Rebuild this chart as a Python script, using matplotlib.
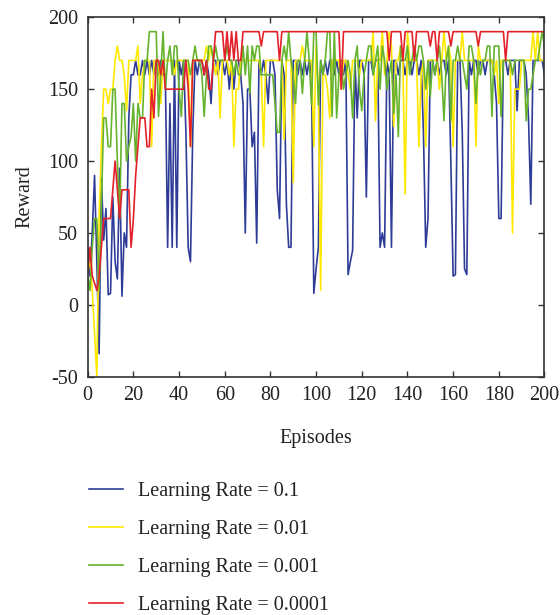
import numpy as np
import matplotlib
matplotlib.use("Agg")
import matplotlib.pyplot as plt

# Reward per episode for each learning rate (episodes 0..200)
episodes = np.arange(0, 201)

reward_lr_0_1 = [
    40, 20, 50, 90, 30, -34, 88, 45, 67, 7,
    8, 75, 30, 18, 95, 6, 50, 40, 130, 160,
    160, 170, 160, 160, 170, 160, 170, 160, 170, 160,
    170, 160, 170, 160, 160, 40, 140, 40, 170, 40,
    170, 160, 170, 120, 40, 30, 120, 170, 160, 170,
    170, 160, 170, 160, 140, 170, 170, 160, 170, 170,
    160, 170, 150, 170, 150, 170, 170, 160, 140, 50,
    150, 150, 110, 120, 43, 170, 160, 170, 160, 140,
    170, 170, 160, 80, 60, 170, 160, 70, 40, 40,
    170, 170, 160, 170, 160, 170, 160, 170, 160, 8,
    25, 40, 170, 160, 170, 160, 170, 170, 160, 170,
    160, 170, 160, 170, 21, 30, 38, 170, 130, 170,
    170, 160, 75, 170, 170, 160, 170, 170, 40, 50,
    40, 170, 160, 40, 170, 170, 160, 170, 170, 160,
    170, 170, 160, 170, 170, 160, 170, 120, 40, 60,
    170, 170, 160, 170, 160, 170, 170, 160, 170, 100,
    20, 21, 170, 170, 120, 25, 21, 170, 160, 170,
    170, 160, 170, 170, 160, 170, 170, 170, 160, 140,
    60, 60, 170, 170, 160, 170, 170, 170, 135, 170,
    170, 170, 160, 130, 70, 170, 170, 170, 170, 170,
    160,
]

reward_lr_0_01 = [
    25, 30, 10, -20, -50, 60, 110, 150, 150, 140,
    150, 150, 170, 180, 170, 170, 160, 135, 170, 170,
    170, 170, 180, 140, 160, 170, 170, 170, 110, 170,
    170, 170, 140, 170, 170, 170, 170, 170, 160, 170,
    170, 170, 170, 170, 170, 110, 170, 170, 170, 170,
    170, 170, 180, 170, 180, 170, 160, 170, 130, 170,
    170, 170, 160, 170, 110, 150, 150, 170, 170, 170,
    170, 170, 170, 170, 170, 170, 160, 110, 170, 170,
    170, 170, 170, 170, 170, 170, 115, 170, 170, 170,
    85, 170, 170, 170, 180, 170, 170, 170, 170, 110,
    180, 150, 10, 160, 160, 150, 130, 170, 170, 170,
    170, 150, 170, 170, 160, 150, 170, 170, 170, 160,
    170, 170, 170, 170, 170, 190, 128, 170, 170, 190,
    160, 170, 190, 180, 124, 170, 170, 180, 170, 77,
    190, 170, 170, 170, 170, 110, 160, 170, 110, 170,
    170, 170, 170, 170, 150, 170, 190, 170, 180, 170,
    110, 170, 170, 170, 190, 170, 170, 170, 170, 170,
    110, 180, 170, 170, 170, 170, 170, 170, 160, 170,
    140, 170, 170, 170, 170, 170, 50, 150, 150, 150,
    170, 170, 170, 170, 170, 190, 170, 190, 170, 170,
    170,
]

reward_lr_0_001 = [
    20, 10, 40, 60, 60, 10, 70, 130, 130, 110,
    110, 150, 150, 100, 60, 140, 140, 100, 110, 117,
    140, 100, 140, 130, 130, 170, 170, 190, 190, 190,
    190, 131, 160, 190, 150, 170, 180, 160, 180, 180,
    150, 131, 170, 170, 170, 160, 170, 180, 170, 170,
    160, 131, 160, 180, 180, 170, 180, 170, 170, 170,
    170, 180, 170, 170, 160, 170, 160, 160, 180, 160,
    180, 147, 180, 170, 180, 180, 160, 160, 160, 160,
    160, 160, 140, 120, 120, 170, 180, 170, 190, 170,
    160, 140, 170, 170, 147, 170, 190, 170, 139, 190,
    190, 139, 170, 160, 170, 190, 190, 131, 190, 130,
    160, 170, 150, 160, 170, 160, 130, 170, 180, 150,
    135, 160, 170, 180, 180, 160, 170, 180, 150, 180,
    170, 150, 160, 170, 133, 160, 117, 180, 170, 170,
    180, 160, 170, 180, 170, 180, 180, 170, 150, 170,
    145, 170, 160, 170, 180, 160, 128, 170, 180, 128,
    170, 170, 180, 170, 170, 160, 150, 180, 180, 170,
    140, 170, 160, 170, 170, 180, 180, 131, 180, 180,
    180, 131, 170, 170, 170, 170, 160, 170, 170, 170,
    170, 170, 128, 150, 150, 160, 170, 170, 180, 190,
    180,
]

reward_lr_0_0001 = [
    22, 40, 20, 15, 10, 20, 40, 60, 60, 60,
    60, 80, 100, 80, 60, 80, 80, 80, 80, 40,
    60, 90, 110, 130, 130, 130, 110, 110, 150, 130,
    170, 170, 160, 170, 150, 150, 150, 150, 150, 150,
    150, 150, 150, 170, 150, 110, 170, 170, 170, 170,
    170, 160, 170, 150, 150, 170, 190, 190, 190, 190,
    170, 190, 170, 190, 170, 190, 170, 170, 190, 190,
    190, 190, 190, 190, 190, 190, 180, 190, 190, 190,
    190, 190, 190, 190, 170, 190, 190, 190, 190, 190,
    190, 190, 190, 190, 190, 190, 190, 190, 190, 190,
    190, 190, 190, 190, 190, 190, 190, 190, 190, 190,
    190, 150, 190, 190, 190, 190, 190, 190, 190, 190,
    190, 190, 190, 190, 190, 190, 190, 190, 190, 190,
    190, 190, 170, 190, 190, 190, 190, 190, 170, 190,
    190, 190, 190, 170, 190, 190, 190, 190, 190, 190,
    180, 190, 190, 170, 190, 190, 190, 190, 190, 180,
    190, 190, 190, 190, 190, 190, 190, 190, 190, 190,
    190, 180, 190, 190, 190, 190, 190, 190, 190, 190,
    190, 190, 190, 170, 190, 190, 190, 190, 190, 190,
    190, 190, 190, 190, 190, 190, 190, 190, 190, 190,
    190,
]

labels = [
    "Learning Rate = 0.1",
    "Learning Rate = 0.01",
    "Learning Rate = 0.001",
    "Learning Rate = 0.0001",
]
colors = ["#2e3c98", "#ffe800", "#66b32e", "#e4202a"]

plt.rcParams["font.family"] = ["Liberation Serif", "DejaVu Serif"]
plt.rcParams["font.size"] = 14.5
plt.rcParams["axes.unicode_minus"] = False

fig = plt.figure(figsize=(5.6, 6.15), dpi=100)
ax = fig.add_axes([0.1566, 0.3875, 0.8157, 0.5844])

series = [reward_lr_0_1, reward_lr_0_01, reward_lr_0_001, reward_lr_0_0001]
for vals, lab, col in zip(series, labels, colors):
    ax.plot(episodes, vals, color=col, lw=1.2, label=lab)

ax.set_xlim(0, 200)
ax.set_ylim(-50, 200)
ax.set_xticks(np.arange(0, 201, 20))
ax.set_yticks(np.arange(-50, 201, 50))
ax.tick_params(direction="in", top=True, right=True, length=4, width=1,
               color="#333333", labelcolor="#222222", pad=7)
for sp in ax.spines.values():
    sp.set_color("#333333")
    sp.set_linewidth(1.2)

ax.set_xlabel("Episodes", color="#222222", labelpad=17)
ax.set_ylabel("Reward", color="#222222", labelpad=10)

# legend sits below the axes, one entry per row
handles, labs = ax.get_legend_handles_labels()
fig.legend(handles, labs, loc="upper left", bbox_to_anchor=(0.133, 0.240),
           frameon=False, handlelength=1.7, handletextpad=0.75,
           labelspacing=0.95, labelcolor="#222222", borderaxespad=0.3)

fig.savefig("out.png", dpi=100)
